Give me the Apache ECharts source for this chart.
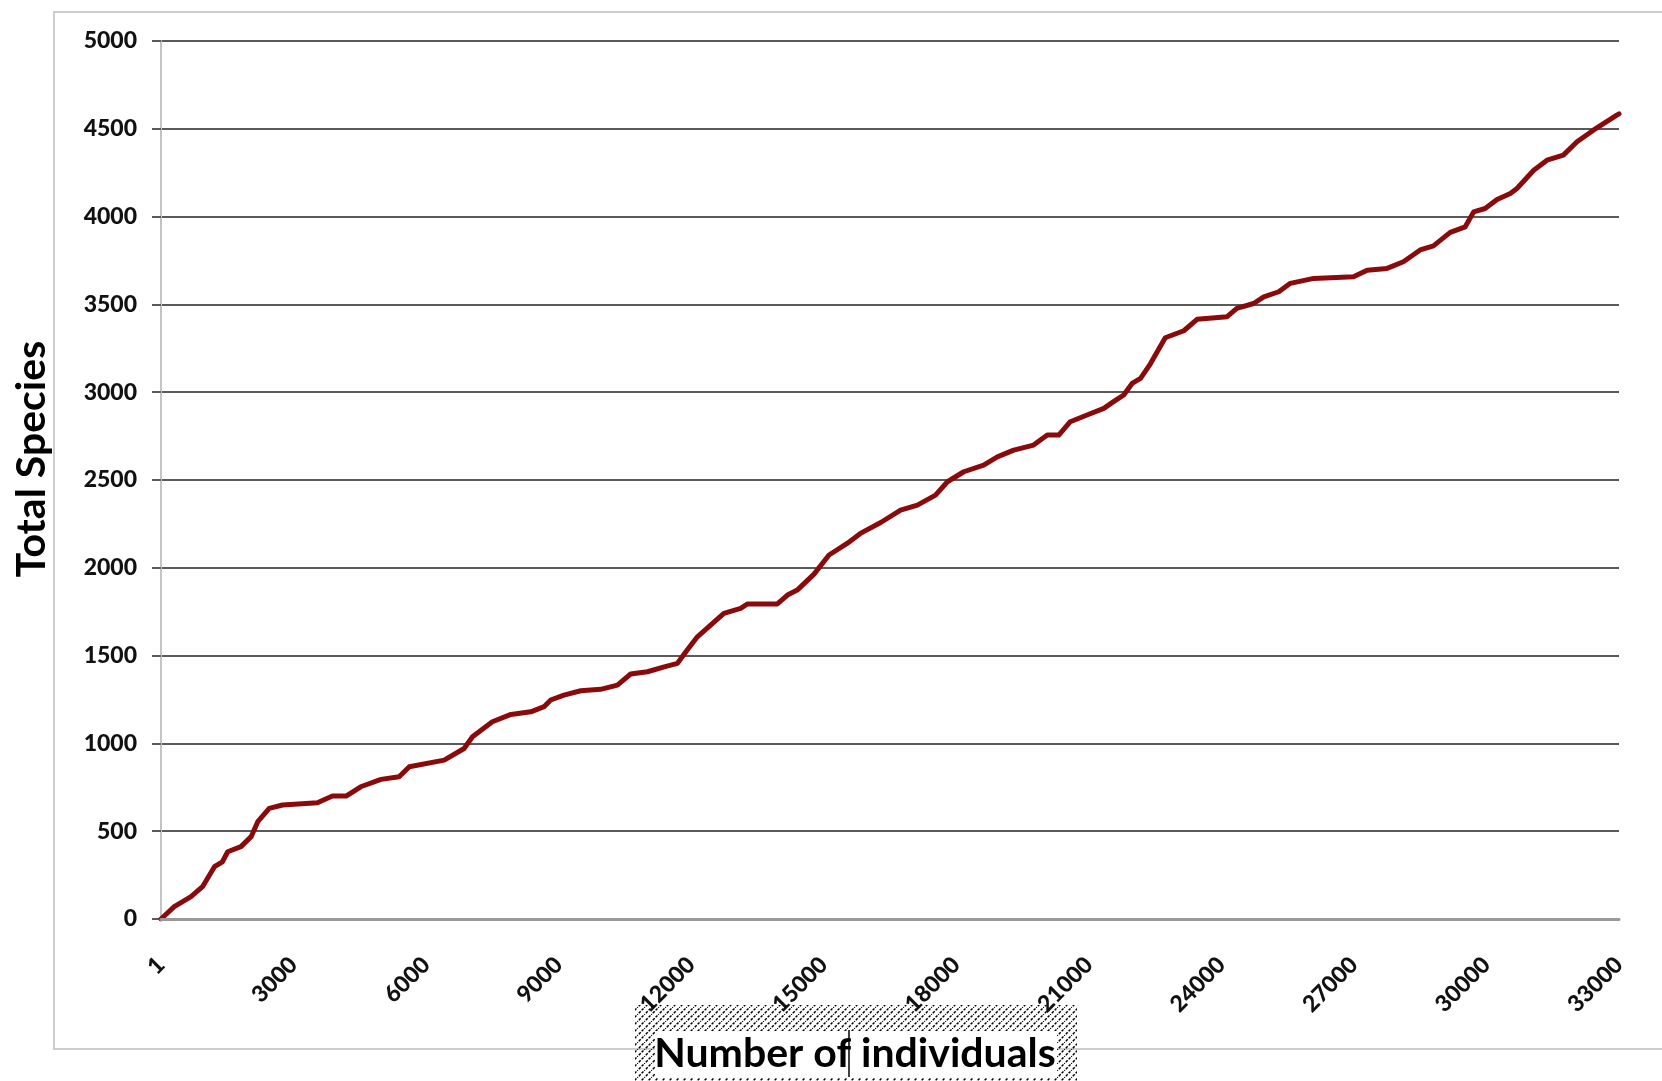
<!DOCTYPE html>
<html><head><meta charset="utf-8">
<script src="https://cdn.jsdelivr.net/npm/echarts@6/dist/echarts.min.js"></script>
<style>html,body{margin:0;padding:0;background:#fff}#c{width:1662px;height:1081px}</style>
</head><body><div id="c"></div>
<script>
const individuals = [0,300,680,940,1210,1390,1510,1810,2040,2190,2450,2750,3540,3880,4190,4520,4980,5390,5620,6410,6860,7050,7500,7920,8370,8670,8820,9120,9500,9950,10330,10630,11010,11390,11690,11910,12140,12440,12740,13120,13270,13950,14180,14400,14780,15120,15530,15830,16290,16740,17120,17530,17800,18170,18620,18930,19300,19750,20060,20320,20580,20960,21340,21560,21790,21980,22170,22390,22730,23150,23450,24130,24350,24730,24960,25300,25560,26090,26990,27300,27750,28120,28500,28800,29180,29520,29710,29970,30240,30540,30690,31070,31370,31740,32050,32420,32950,33000];
const totalSpecies = [0,70,127,184,298,326,383,412,469,554,630,649,662,700,700,753,795,810,867,905,971,1038,1123,1165,1180,1209,1247,1275,1300,1308,1332,1395,1408,1436,1456,1532,1607,1674,1741,1769,1794,1794,1845,1873,1964,2073,2139,2196,2258,2329,2357,2414,2490,2547,2585,2632,2670,2699,2756,2756,2832,2870,2908,2946,2984,3050,3079,3160,3310,3350,3415,3430,3477,3505,3543,3572,3620,3648,3657,3695,3705,3743,3810,3833,3910,3942,4027,4046,4097,4132,4160,4264,4321,4350,4426,4492,4578,4585];
const xTickLabels = ['1','3000','6000','9000','12000','15000','18000','21000','24000','27000','30000','33000'];
const yTickLabels = ['0','500','1000','1500','2000','2500','3000','3500','4000','4500','5000'];
const xTitle = 'Number of individuals';
const yTitle = 'Total Species';

function hatchCanvas(){
  const c=document.createElement('canvas');c.width=7;c.height=7;
  const g=c.getContext('2d');
  g.strokeStyle='#000';g.lineWidth=1.5;g.setLineDash([2.6,1.4]);
  g.beginPath();g.moveTo(-1,8);g.lineTo(8,-1);g.stroke();
  return c;
}

const chart = echarts.init(document.getElementById('c'));
const FONT = 'Lato';
chart.setOption({
  animation:false,
  backgroundColor:'#fff',
  grid:{left:161,right:43,top:41,bottom:162,containLabel:false},
  xAxis:{
    type:'value',min:0,max:33000,interval:3000,z:10,
    axisLine:{show:true,lineStyle:{color:'#999',width:3}},
    axisTick:{show:false},
    splitLine:{show:false},
    axisLabel:{rotate:45,margin:42,fontFamily:FONT,fontWeight:900,fontSize:23,color:'#111',
      formatter:(v)=>xTickLabels[Math.round(v/3000)]}
  },
  yAxis:{
    type:'value',min:0,max:5000,interval:500,
    axisLine:{show:true,lineStyle:{color:'#c4c4c4',width:2}},
    axisTick:{show:true,length:9,lineStyle:{color:'#5a5a5a',width:2}},
    splitLine:{show:true,lineStyle:{color:'#5a5a5a',width:2}},
    axisLabel:{margin:24,fontFamily:FONT,fontWeight:900,fontSize:23,color:'#111',
      formatter:(v)=>yTickLabels[Math.round(v/500)]}
  },
  series:[{
    type:'line',data:individuals.map((x,i)=>[x,totalSpecies[i]]),
    showSymbol:false,symbol:'none',smooth:false,
    lineStyle:{color:'#8a0a0c',width:5,cap:'round',join:'round'}
  }],
  graphic:[
    {type:'rect',z:-1,shape:{x:54,y:12,width:1700,height:1037},style:{fill:'none',stroke:'#cdcdcd',lineWidth:2}},
    {type:'rect',z:1,shape:{x:635,y:1005,width:442,height:100},style:{fill:{image:hatchCanvas(),repeat:'repeat'}}},
    {type:'rect',z:1,shape:{x:655,y:1031,width:402,height:47},style:{fill:'#fff'}},
    {type:'text',z:2,style:{text:xTitle,x:855,y:1054,align:'center',verticalAlign:'middle',fontFamily:FONT,fontWeight:'bold',fontSize:41,fill:'#000'}},
    {type:'line',z:3,shape:{x1:849,y1:1030,x2:849,y2:1077},style:{stroke:'#000',lineWidth:1.5}},
    {type:'text',z:2,rotation:Math.PI/2,x:32,y:459,style:{text:yTitle,x:0,y:0,align:'center',verticalAlign:'middle',fontFamily:FONT,fontWeight:'bold',fontSize:41,fill:'#000'}}
  ]
});
</script>
</body></html>
